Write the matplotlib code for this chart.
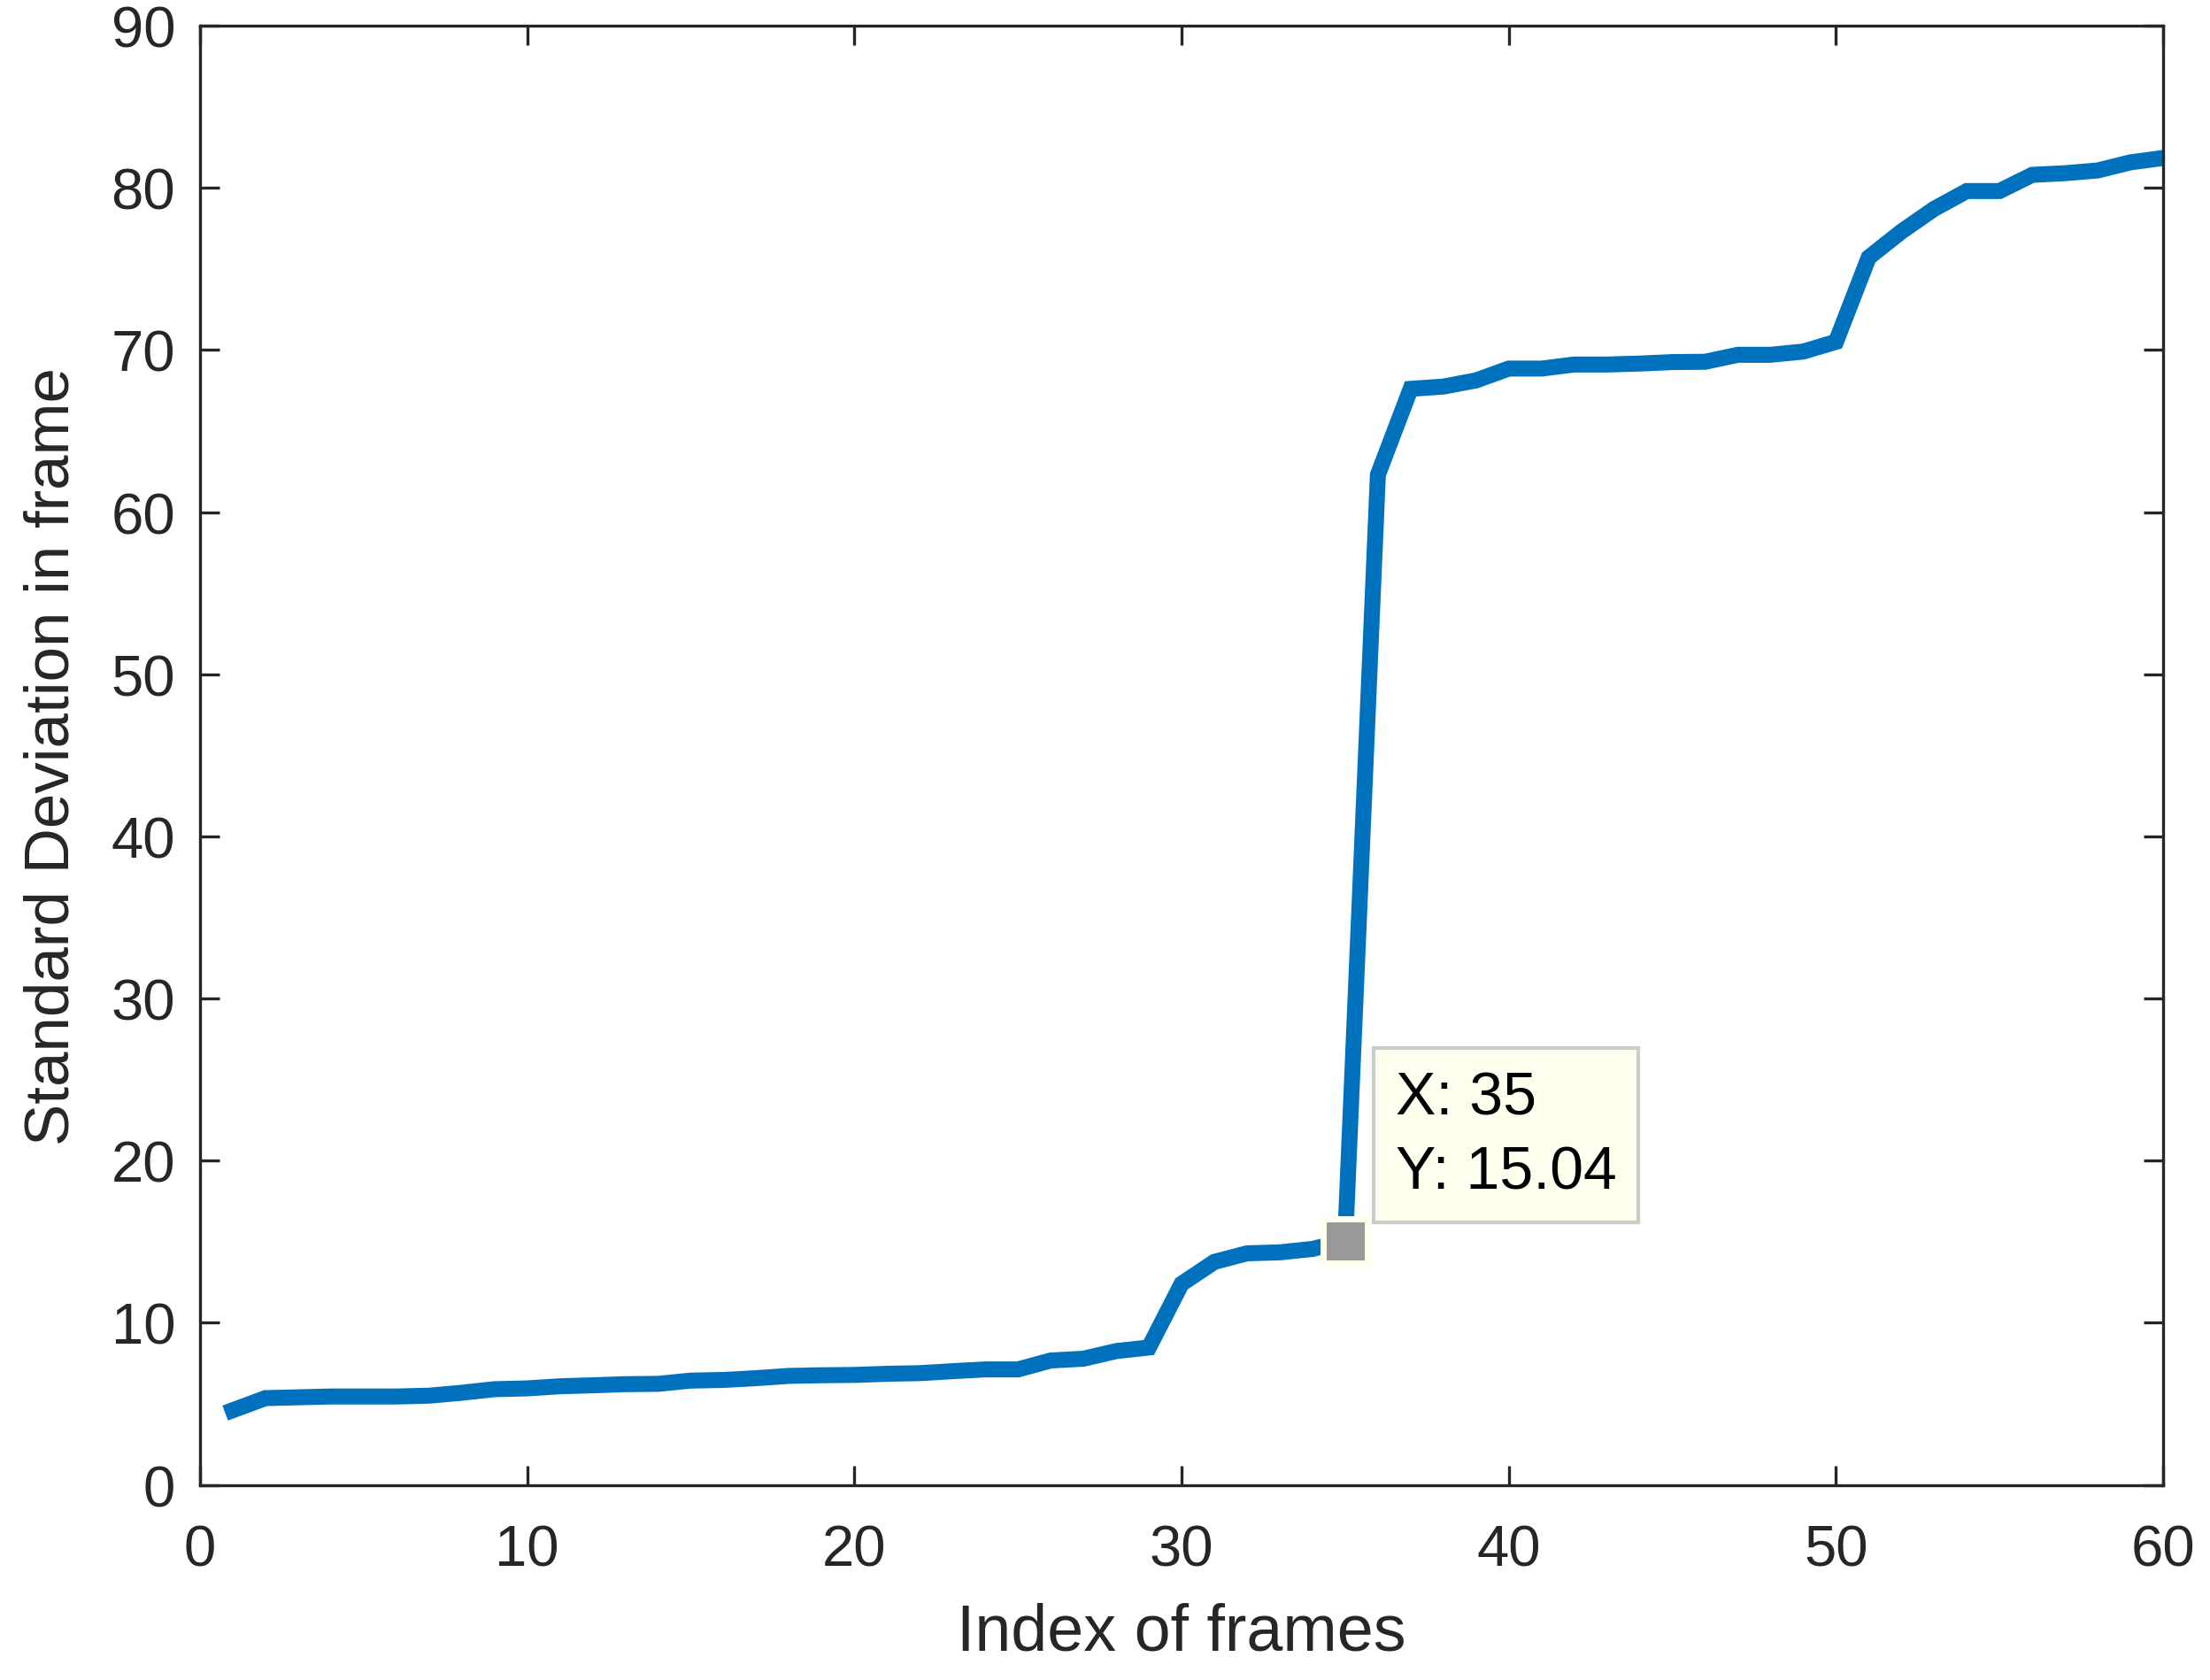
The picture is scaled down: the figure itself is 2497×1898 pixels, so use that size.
import matplotlib
matplotlib.use('Agg')
from matplotlib import pyplot as plt

# Datos
frames = list(range(1, 61))
std_dev = [4.6, 5.35, 5.4, 5.45, 5.45, 5.45, 5.5, 5.68, 5.9, 5.95,
           6.08, 6.14, 6.21, 6.23, 6.43, 6.47, 6.58, 6.72, 6.76, 6.78,
           6.85, 6.89, 7.01, 7.12, 7.12, 7.67, 7.78, 8.25, 8.47, 12.4,
           13.75, 14.28, 14.34, 14.55, 15.04, 62.3, 67.6, 67.74, 68.12, 68.85,
           68.85, 69.1, 69.1, 69.16, 69.25, 69.27, 69.7, 69.7, 69.9, 70.5,
           75.7, 77.3, 78.7, 79.8, 79.8, 80.8, 80.9, 81.07, 81.57, 81.84]
tip_x = 35
tip_y = 15.04

plt.rcParams['font.family'] = ['Liberation Sans', 'DejaVu Sans']
dark = '#262626'

fig = plt.figure(figsize=(24.97, 18.99), dpi=100)
ax = fig.add_axes([0.0905, 0.1161, 0.8883, 0.8681])

ax.plot(frames, std_dev, color='#0072BD', linewidth=13, solid_joinstyle='miter')

# Marcador del data tip
ax.plot([tip_x], [tip_y], marker='s', markersize=36, markerfacecolor='#999999',
        markeredgecolor='#FFFFEE', markeredgewidth=5, zorder=5)
ax.annotate(f"X: {tip_x}\nY: {tip_y:.2f}", xy=(tip_x, tip_y), xytext=(41, 33),
            textcoords='offset points', ha='left', va='bottom', fontsize=49,
            linespacing=1.4, color='black', zorder=6,
            bbox=dict(boxstyle='square,pad=0.36', facecolor='#FFFFEE',
                      edgecolor='#CCCCCC', linewidth=3))

ax.set_xlim(0, 60)
ax.set_ylim(0, 90)
ax.set_xticks(range(0, 61, 10))
ax.set_yticks(range(0, 91, 10))

ax.tick_params(direction='in', length=16, width=2.4, colors=dark,
               labelsize=47, top=True, right=True)
ax.tick_params(axis='x', pad=32)
ax.tick_params(axis='y', pad=20)
for s in ax.spines.values():
    s.set_linewidth(2.4)
    s.set_color(dark)

ax.set_xlabel("Index of frames", fontsize=53, color=dark, labelpad=20)
ax.set_ylabel("Standard Deviation in frame", fontsize=51, color=dark, labelpad=24)

fig.savefig('out.png', dpi=100)
plt.close(fig)
